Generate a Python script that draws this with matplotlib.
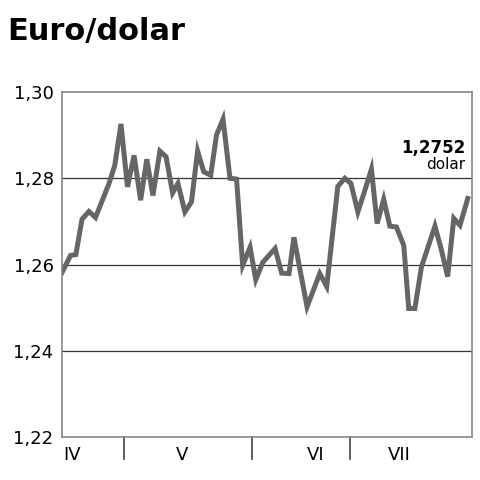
import matplotlib
matplotlib.use('Agg')
import matplotlib.pyplot as plt

# positions along the period (0..100) and EUR/USD rate
t = [0.0, 2.1, 3.4, 4.9, 6.6, 8.2, 9.7, 11.5, 12.9, 14.4, 16.0, 17.6, 19.2, 20.7,
     22.2, 23.9, 25.4, 27.0, 28.3, 30.0, 31.6, 33.1, 34.6, 36.3, 37.7, 39.3, 41.0,
     42.6, 44.1, 45.9, 47.3, 49.0, 52.0, 53.6, 55.4, 56.6, 58.2, 59.8, 62.9, 64.6,
     67.3, 69.0, 70.5, 72.2, 73.9, 75.5, 76.9, 78.5, 80.0, 81.6, 83.4, 84.6, 86.1,
     87.7, 89.3, 91.0, 92.6, 94.1, 95.6, 97.1, 99.0]
rate = [1.2581, 1.2621, 1.2623, 1.2705, 1.2723, 1.2709, 1.2745, 1.2788, 1.2830,
        1.2926, 1.2780, 1.2853, 1.2749, 1.2844, 1.2760, 1.2863, 1.2850, 1.2766,
        1.2788, 1.2722, 1.2745, 1.2863, 1.2815, 1.2807, 1.2900, 1.2937, 1.2800,
        1.2798, 1.2598, 1.2640, 1.2565, 1.2605, 1.2637, 1.2580, 1.2579, 1.2663,
        1.2582, 1.2502, 1.2579, 1.2549, 1.2781, 1.2800, 1.2788, 1.2722, 1.2772,
        1.2821, 1.2695, 1.2751, 1.2689, 1.2687, 1.2644, 1.2498, 1.2498, 1.2594,
        1.2640, 1.2689, 1.2633, 1.2572, 1.2707, 1.2691, 1.2753]

yticks = [1.22, 1.24, 1.26, 1.28, 1.30]
month_labels = ['IV', 'V', 'VI', 'VII']
month_label_pos = [2.4, 29.3, 62.0, 82.2]
month_bounds = [15.1, 46.3, 70.2]

fig = plt.figure(figsize=(4.8, 4.8), dpi=100)
ax = fig.add_axes([0.129, 0.0896, 0.854, 0.7187])

for y in [1.24, 1.26, 1.28]:
    ax.axhline(y, color='#333333', linewidth=0.9, zorder=1)
ax.plot(t, rate, color='#666666', linewidth=3.6, solid_joinstyle='miter', zorder=2)

ax.set_xlim(0, 100)
ax.set_ylim(1.22, 1.30)
ax.set_yticks(yticks)
ax.set_yticklabels([f'{v:.2f}'.replace('.', ',') for v in yticks], fontsize=13)
ax.tick_params(axis='y', length=0, pad=6)
ax.set_xticks([])
for s in ax.spines.values():
    s.set_color('#888888')
    s.set_linewidth(1.2)

# month separators below the axis
for b in month_bounds:
    ax.plot([b, b], [1.22, 1.2148], color='#444444', linewidth=1.2, clip_on=False)
for lab, p in zip(month_labels, month_label_pos):
    ax.text(p, 1.2158, lab, ha='center', va='center', fontsize=13)

ax.text(98.5, 1.2870, '1,2752', ha='right', va='center', fontsize=12, fontweight='bold')
ax.text(98.5, 1.2831, 'dolar', ha='right', va='center', fontsize=11)

fig.text(0.015, 0.935, 'Euro/dolar', ha='left', va='center', fontsize=22, fontweight='bold')

fig.savefig('out.png', dpi=100)
